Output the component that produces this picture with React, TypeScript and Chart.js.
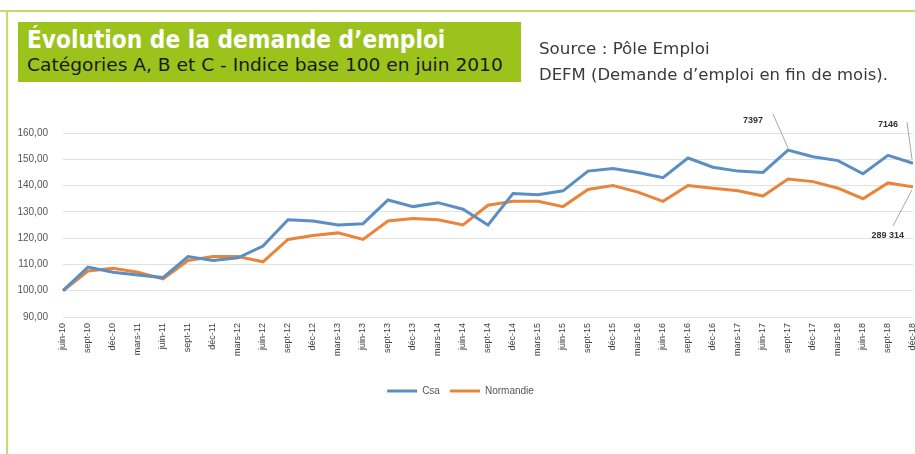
import React, { useEffect, useLayoutEffect, useRef, useState } from "react";
import { Chart, registerables } from "chart.js";

Chart.register(...registerables);

// ---- Data ----
const categories = [
  "juin-10", "sept-10", "déc-10", "mars-11", "juin-11", "sept-11", "déc-11", "mars-12",
  "juin-12", "sept-12", "déc-12", "mars-13", "juin-13", "sept-13", "déc-13", "mars-14",
  "juin-14", "sept-14", "déc-14", "mars-15", "juin-15", "sept-15", "déc-15", "mars-16",
  "juin-16", "sept-16", "déc-16", "mars-17", "juin-17", "sept-17", "déc-17", "mars-18",
  "juin-18", "sept-18", "déc-18",
];

const csaValues = [
  100, 109, 107, 106, 105, 113, 111.5, 112.5,
  117, 127, 126.5, 125, 125.5, 134.5, 132, 133.5,
  131, 125, 137, 136.5, 138, 145.5, 146.5, 145,
  143, 150.5, 147, 145.5, 145, 153.5, 151, 149.5,
  144.5, 151.5, 148.5,
];

const normandieValues = [
  100, 107.5, 108.5, 107, 104.5, 111.5, 113, 113,
  111, 119.5, 121, 122, 119.5, 126.5, 127.5, 127,
  125, 132.5, 134, 134, 132, 138.5, 140, 137.5,
  134, 140, 139, 138, 136, 142.5, 141.5, 139,
  135, 141, 139.5,
];

const seriesNames = ["Csa", "Normandie"];
const yTicks = { min: 90, max: 160, step: 10 };

// data labels: series index, category index, text
const dataLabels = [
  { series: 0, index: 29, text: "7397" },
  { series: 0, index: 34, text: "7146" },
  { series: 1, index: 34, text: "289 314" },
];

const titleText = "Évolution de la demande d’emploi";
const subtitleText = "Catégories A, B et C - Indice base 100 en juin 2010";
const sourceLine1 = "Source : Pôle Emploi";
const sourceLine2 = "DEFM (Demande d’emploi en fin de mois).";

const BLUE = "#5b8ec2";
const ORANGE = "#e8853a";

function FitText(props: { text: string; width: number; style: React.CSSProperties }) {
  const ref = useRef<HTMLSpanElement>(null);
  const [sx, setSx] = useState(1);
  useLayoutEffect(() => {
    if (ref.current) {
      const w = ref.current.offsetWidth;
      if (w > 0) setSx(props.width / w);
    }
  }, [props.text, props.width]);
  return (
    <span
      ref={ref}
      style={{
        ...props.style,
        position: "absolute",
        display: "inline-block",
        whiteSpace: "nowrap",
        transform: `scaleX(${sx})`,
        transformOrigin: "left top",
      }}
    >
      {props.text}
    </span>
  );
}

const labelOffsets: Record<string, { tx: number; ty: number; lx1: number; ly1: number; lx2: number; ly2: number; align: CanvasTextAlign }> = {
  "0-29": { tx: -25, ty: -30, lx1: -15, ly1: -36, lx2: 0, ly2: -2, align: "right" },
  "0-34": { tx: -15, ty: -39, lx1: -6, ly1: -41, lx2: -1, ly2: -4, align: "right" },
  "1-34": { tx: -9, ty: 49, lx1: -20, ly1: 39, lx2: -1, ly2: 3, align: "right" },
};

const dataLabelPlugin = {
  id: "dataLabelsCustom",
  afterDatasetsDraw(chart: any) {
    const ctx = chart.ctx;
    const xs = chart.scales.x;
    const ys = chart.scales.y;
    const allSeries = [csaValues, normandieValues];
    ctx.save();
    dataLabels.forEach((d) => {
      const px = xs.getPixelForValue(d.index);
      const py = ys.getPixelForValue(allSeries[d.series][d.index]);
      const o = labelOffsets[`${d.series}-${d.index}`];
      ctx.strokeStyle = "#a6a6a6";
      ctx.lineWidth = 1;
      ctx.beginPath();
      ctx.moveTo(px + o.lx1, py + o.ly1);
      ctx.lineTo(px + o.lx2, py + o.ly2);
      ctx.stroke();
      ctx.fillStyle = "#333333";
      ctx.font = "bold 9px 'Liberation Sans', Arial, sans-serif";
      ctx.textAlign = o.align;
      ctx.textBaseline = "middle";
      ctx.fillText(d.text, px + o.tx, py + o.ty);
    });
    ctx.restore();
  },
};

function LineChart() {
  const canvasRef = useRef<HTMLCanvasElement>(null);
  useEffect(() => {
    if (!canvasRef.current) return;
    const chart = new Chart(canvasRef.current, {
      type: "line",
      data: {
        labels: categories,
        datasets: [
          {
            label: seriesNames[0],
            data: csaValues,
            borderColor: BLUE,
            backgroundColor: BLUE,
            borderWidth: 3,
            pointRadius: 0,
            tension: 0,
          },
          {
            label: seriesNames[1],
            data: normandieValues,
            borderColor: ORANGE,
            backgroundColor: ORANGE,
            borderWidth: 3,
            pointRadius: 0,
            tension: 0,
          },
        ],
      },
      options: {
        animation: false,
        responsive: false,
        maintainAspectRatio: false,
        layout: { padding: { left: 8, top: 133, right: 27, bottom: 48 } },
        scales: {
          x: {
            offset: false,
            grid: { display: false, drawTicks: false },
            border: { display: false },
            ticks: {
              autoSkip: false,
              minRotation: 90,
              maxRotation: 90,
              padding: 6,
              color: "#404040",
              font: { size: 9, family: "'Liberation Sans', Arial, sans-serif" },
            },
            afterFit: (s: any) => {
              s.height = 59;
            },
          },
          y: {
            min: yTicks.min,
            max: yTicks.max,
            ticks: {
              stepSize: yTicks.step,
              padding: 15,
              color: "#555555",
              font: { size: 10, family: "'Liberation Sans', Arial, sans-serif" },
              callback: (v: any) => Number(v).toFixed(2).replace(".", ","),
            },
            grid: { color: "#e1e1e1", lineWidth: 1, drawTicks: false },
            border: { display: false },
            afterFit: (s: any) => {
              s.width = 55;
            },
          },
        },
        plugins: {
          legend: {
            position: "bottom",
            labels: {
              usePointStyle: true,
              pointStyle: "line",
              pointStyleWidth: 30,
              boxHeight: 8,
              padding: 10,
              color: "#555555",
              font: { size: 10, family: "'Liberation Sans', Arial, sans-serif" },
            },
          },
          tooltip: { enabled: false },
        },
      },
      plugins: [dataLabelPlugin],
    } as any);
    return () => chart.destroy();
  }, []);
  return (
    <canvas
      ref={canvasRef}
      width={940}
      height={454}
      style={{ position: "absolute", left: 0, top: 0, width: 940, height: 454 }}
    />
  );
}

export default function App() {
  const condensed = "'Liberation Sans Narrow', 'DejaVu Sans Condensed', 'Roboto', 'Liberation Sans', sans-serif";
  return (
    <div
      style={{
        position: "absolute",
        left: 0,
        top: 0,
        width: 915,
        height: 454,
        overflow: "hidden",
        background: "#ffffff",
      }}
    >
      <LineChart />
      {/* frame */}
      <div style={{ position: "absolute", left: 0, top: 10, width: 915, height: 2, background: "#c4dc6c" }} />
      <div style={{ position: "absolute", left: 6, top: 10, width: 2, height: 444, background: "#c4dc6c" }} />
      {/* title box */}
      <div style={{ position: "absolute", left: 18, top: 22, width: 503, height: 60, background: "#9bc31c" }} />
      <FitText
        text={titleText}
        width={418}
        style={{ left: 27, top: 27, fontFamily: condensed, fontWeight: "bold", fontSize: 25, lineHeight: "25px", color: "#ffffff" }}
      />
      <FitText
        text={subtitleText}
        width={476}
        style={{ left: 27, top: 56, fontFamily: condensed, fontSize: 18, lineHeight: "18px", color: "#1a1a1a" }}
      />
      <FitText
        text={sourceLine1}
        width={171}
        style={{ left: 539, top: 42, fontFamily: condensed, fontSize: 15, lineHeight: "15px", color: "#3a3a3a" }}
      />
      <FitText
        text={sourceLine2}
        width={349}
        style={{ left: 539, top: 68, fontFamily: condensed, fontSize: 15, lineHeight: "15px", color: "#3a3a3a" }}
      />
    </div>
  );
}
